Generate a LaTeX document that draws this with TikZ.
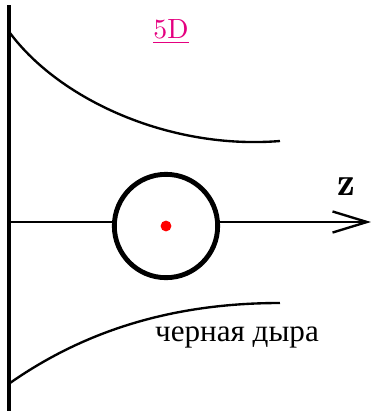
\documentclass[tikz,border=0pt]{standalone}
\usepackage{fontspec}
\newfontfamily\cyrfont{Liberation Serif}
\usetikzlibrary{arrows.meta}
\definecolor{pinkD}{RGB}{228,0,127}
\begin{document}
\begin{tikzpicture}[x=0.36pt,y=-0.36pt,
  wall/.style={line width=1.75pt},
  thinline/.style={line width=0.85pt},
  bhole/.style={circle,draw,line width=1.75pt,minimum size=37.2pt,inner sep=0pt},
  reddot/.style={circle,fill=red,minimum size=3.9pt,inner sep=0pt},
  axisarrow/.style={thinline,-{Straight Barb[length=12.4pt,width=7.6pt]}}]
\useasboundingbox (0,0) rectangle (372,411);
% wall
\coordinate (wtop) at (9,5);
\coordinate (wbot) at (9,411);
\draw[wall] (wtop) -- (wbot);
% upper curve
\coordinate (u0) at (10,33);
\coordinate (u1) at (280,141);
\draw[thinline] (u0) .. controls (60,100) and (170,150) .. (u1);
% lower curve
\coordinate (l0) at (10,383);
\coordinate (l1) at (280,303);
\draw[thinline] (l0) .. controls (90,327) and (180,303) .. (l1);
% black hole
\node[bhole] (bh) at (166,226) {};
\node[reddot] (dot) at (bh.center) {};
% axis
\coordinate (axl) at (10,222);
\coordinate (axr) at (371,222);
\draw[thinline] (axl) -- (bh.west |- axl);
\draw[axisarrow] (bh.east |- axl) -- (axr);
% labels
\node[text=pinkD] (lab5d) at (171,32) {\underline{5D}};
\node (zlab) at (346,187) {\Large$\mathbf{z}$};
\node (bhlab) at (237,337) {\cyrfont\fontsize{11.2}{13}\selectfont черная дыра};
\end{tikzpicture}
\end{document}
